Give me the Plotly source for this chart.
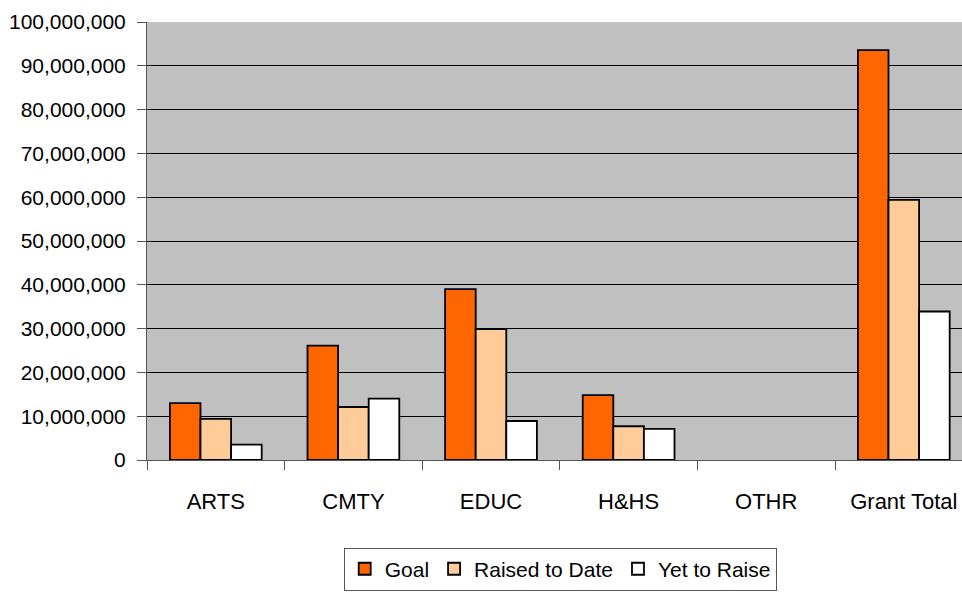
import plotly.graph_objects as go

categories = ["ARTS", "CMTY", "EDUC", "H&HS", "OTHR", "Grant Total"]
goal = [13.0e6, 26.1e6, 39.0e6, 14.8e6, 0, 93.6e6]
raised = [9.4e6, 12.1e6, 29.9e6, 7.7e6, 0, 59.4e6]
yet = [3.5e6, 14.0e6, 8.9e6, 7.1e6, 0, 33.9e6]
y_ticks = [i * 10_000_000 for i in range(11)]

FONT = "Liberation Sans, Arial, sans-serif"

fig = go.Figure()
for name, vals, color in [("Goal", goal, "#FF6600"),
                          ("Raised to Date", raised, "#FFCC99"),
                          ("Yet to Raise", yet, "#FFFFFF")]:
    fig.add_trace(go.Bar(x=categories, y=vals, name=name,
                         marker=dict(color=color,
                                     line=dict(color="#000000",
                                               width=[1.8 if v else 0 for v in vals]))))

fig.update_layout(
    width=962, height=594,
    margin=dict(l=147, r=0, t=22, b=134, autoexpand=False),
    paper_bgcolor="#FFFFFF", plot_bgcolor="#C0C0C0",
    barmode="group", bargap=0.333, bargroupgap=0,
    font=dict(family=FONT, size=21, color="#000000"),
    showlegend=True,
    legend=dict(orientation="h", x=0.507, xanchor="center", y=-0.2, yanchor="top",
                bordercolor="#555555", borderwidth=1, bgcolor="#FFFFFF",
                font=dict(size=21), traceorder="normal", itemwidth=30),
    xaxis=dict(range=[-0.5, 5.423], tickson="boundaries", ticks="outside", ticklen=9,
               tickcolor="#555555", showline=True, linecolor="#555555", linewidth=1,
               ticklabelstandoff=22, showgrid=False, automargin=False,
               tickfont=dict(size=22)),
    yaxis=dict(range=[0, 100e6], tickvals=y_ticks, tickformat=",d", ticks="outside",
               ticklen=9, tickcolor="#555555", showline=True, linecolor="#555555",
               linewidth=1, showgrid=True, gridcolor="#000000", gridwidth=1,
               zeroline=False, ticklabelstandoff=7, automargin=False),
)
fig.write_html("out.html")
